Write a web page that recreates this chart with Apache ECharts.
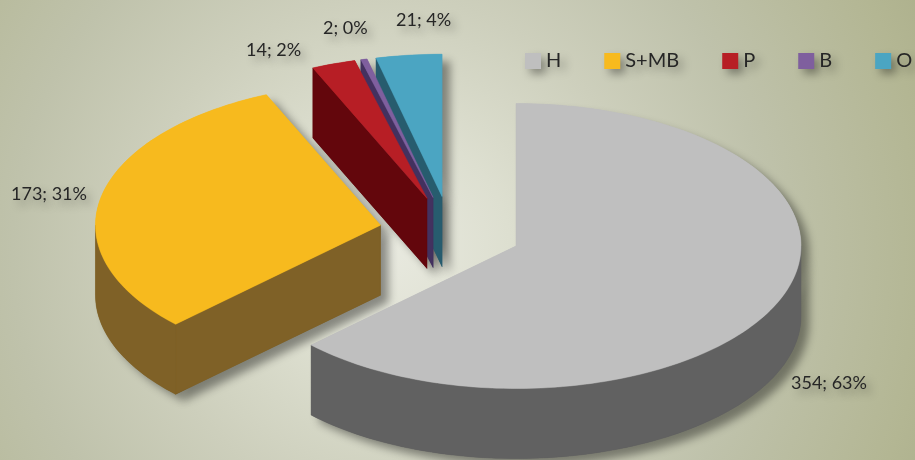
<!DOCTYPE html>
<html>
<head>
<meta charset="utf-8">
<style>
  html, body { margin: 0; padding: 0; }
  #chart { width: 915px; height: 460px; }
</style>
<script src="https://cdn.jsdelivr.net/npm/echarts@6/dist/echarts.min.js"></script>
</head>
<body>
<div id="chart"></div>
<script>
const categories = ['H', 'S+MB', 'P', 'B', 'O']
const values = [354, 173, 14, 2, 21]

const topColors = ['#BFBFBF', '#F7BA1E', '#B71E25', '#7F5F9E', '#4BA5C2']
const sideColors = ['#616161', '#7F6127', '#63060C', '#43315F', '#275C6E']
// 前面的扇区后画
const drawOrder = [5, 6, 4, 3, 2]
const labelSpots = [[791, 383], [11, 194], [246, 50], [323, 28], [396, 20]]

const cx = 450.4
const cy = 232.1
const rx = 285
const ry = 142.5
const depth = 70
const explode = 0.25
const textColor = '#262626'

const total = values.reduce((a, b) => a + b, 0)

// 每个扇区的起止角度（从12点方向顺时针）
const slices = []
let sum = 0
values.forEach(v => {
  slices.push({ start: sum / total * 360, end: (sum + v) / total * 360 })
  sum += v
})

function onEllipse (x0, y0, deg) {
  let rad = deg * Math.PI / 180
  return [x0 + rx * Math.sin(rad), y0 - ry * Math.cos(rad)]
}

function arc (x0, y0, from, to) {
  let pts = []
  let n = Math.max(2, Math.ceil((to - from) / 1.5))
  for (let i = 0; i <= n; i++) {
    pts.push(onEllipse(x0, y0, from + (to - from) * i / n))
  }
  return pts
}

function tipOf (s) {
  let p = onEllipse(0, 0, (s.start + s.end) / 2)
  return [cx + p[0] * explode, cy + p[1] * explode]
}

function down (pts) {
  return pts.map(p => [p[0], p[1] + depth]).reverse()
}

function poly (points, fill) {
  return {
    type: 'polygon',
    shape: { points: points },
    style: { fill: fill, stroke: fill, lineWidth: 0.5 }
  }
}

function sliceWalls (s, color) {
  let tip = tipOf(s)
  let walls = []
  if (s.start >= 180) {
    let edge = [tip, onEllipse(tip[0], tip[1], s.start)]
    walls.push(poly(edge.concat(down(edge)), color))
  }
  if (s.end <= 180) {
    let edge = [tip, onEllipse(tip[0], tip[1], s.end)]
    walls.push(poly(edge.concat(down(edge)), color))
  }
  let from = Math.max(s.start, 90)
  let to = Math.min(s.end, 270)
  if (to > from) {
    let rim = arc(tip[0], tip[1], from, to)
    walls.push(poly(rim.concat(down(rim)), color))
  }
  return walls
}

function sliceTop (s, color) {
  let tip = tipOf(s)
  return poly([tip].concat(arc(tip[0], tip[1], s.start, s.end)), color)
}

function renderSlice (i) {
  return function () {
    let s = slices[i]
    let pct = Math.round(values[i] / total * 100)
    return {
      type: 'group',
      children: sliceWalls(s, sideColors[i]).concat([
        sliceTop(s, topColors[i]),
        {
          type: 'text',
          style: {
            text: values[i] + '; ' + pct + '%',
            x: labelSpots[i][0],
            y: labelSpots[i][1],
            verticalAlign: 'middle',
            font: '18px Lato',
            fill: textColor,
            textShadowColor: 'rgba(0,0,0,0.35)',
            textShadowBlur: 8,
            textShadowOffsetX: 5,
            textShadowOffsetY: 5
          }
        }
      ])
    }
  }
}

// 阴影单独放在最底层，只落在背景上
function renderShadow () {
  let children = []
  slices.forEach((s, i) => {
    let parts = sliceWalls(s, sideColors[i]).concat([sliceTop(s, topColors[i])])
    parts.forEach(p => {
      p.style.stroke = null
      p.style.shadowColor = 'rgba(0,0,0,0.4)'
      p.style.shadowBlur = 8
      p.style.shadowOffsetX = 8
      p.style.shadowOffsetY = 7
      children.push(p)
    })
  })
  return { type: 'group', children: children }
}

const series = categories.map((name, i) => ({
  type: 'custom',
  name: name,
  coordinateSystem: 'none',
  z: drawOrder[i],
  silent: true,
  itemStyle: { color: topColors[i] },
  data: [[values[i]]],
  renderItem: renderSlice(i)
}))
series.push({
  type: 'custom',
  name: 'shadow',
  coordinateSystem: 'none',
  z: 1,
  silent: true,
  data: [[0]],
  renderItem: renderShadow
})

const chart = echarts.init(document.getElementById('chart'))
chart.setOption({
  animation: false,
  backgroundColor: new echarts.graphic.RadialGradient(390, 250, 600, [
    { offset: 0, color: '#E8E9DF' },
    { offset: 0.2, color: '#DDDFD0' },
    { offset: 0.42, color: '#CDCFBC' },
    { offset: 0.63, color: '#BFC2AB' },
    { offset: 0.9, color: '#B3B693' },
    { offset: 1, color: '#ADB08C' }
  ], true),
  legend: {
    data: categories,
    left: 525,
    top: 51,
    padding: 0,
    width: 390,
    itemWidth: 16,
    itemHeight: 16,
    itemGap: 43,
    icon: 'rect',
    selectedMode: false,
    itemStyle: {
      shadowColor: 'rgba(0,0,0,0.35)',
      shadowBlur: 8,
      shadowOffsetX: 5,
      shadowOffsetY: 5
    },
    textStyle: {
      fontFamily: 'Lato',
      fontSize: 20,
      color: textColor,
      textShadowColor: 'rgba(0,0,0,0.35)',
      textShadowBlur: 8,
      textShadowOffsetX: 5,
      textShadowOffsetY: 5
    }
  },
  series: series
})
</script>
</body>
</html>
